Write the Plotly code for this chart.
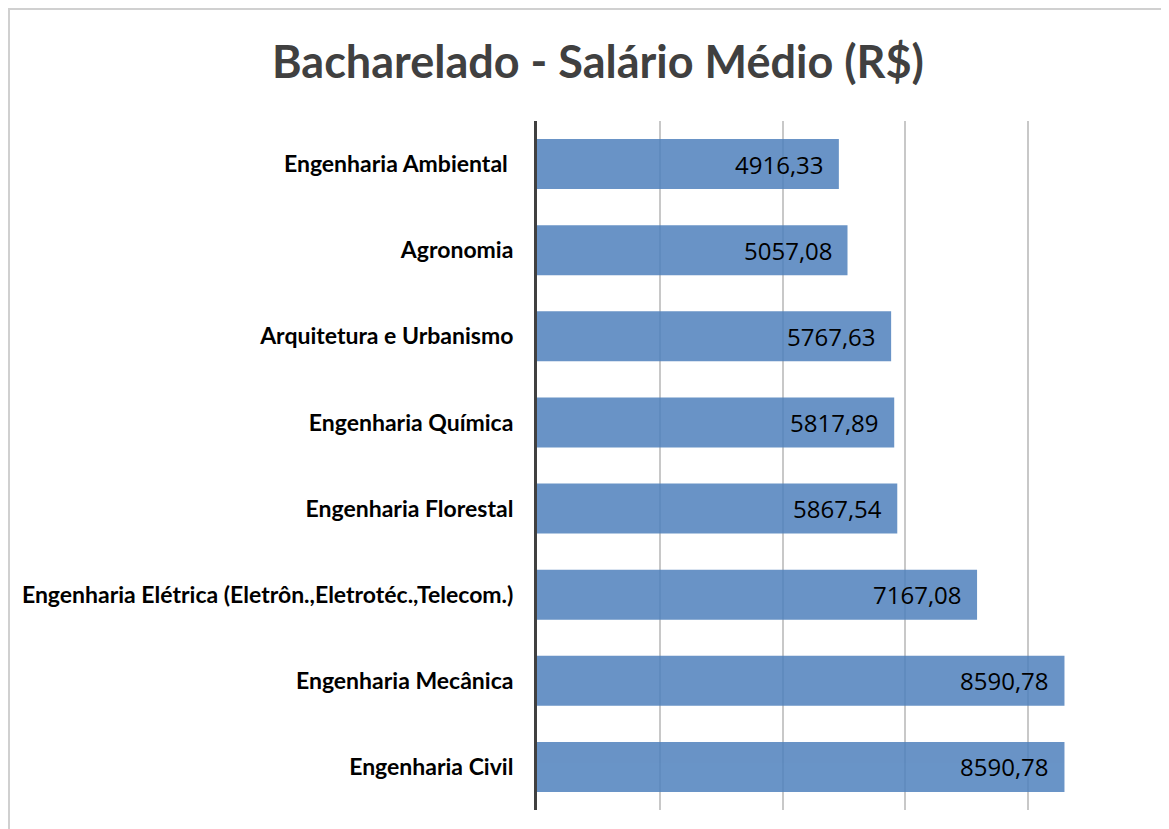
import plotly.graph_objects as go

categories = [
    "Engenharia Ambiental ",
    "Agronomia",
    "Arquitetura e Urbanismo",
    "Engenharia Química",
    "Engenharia Florestal",
    "Engenharia Elétrica (Eletrôn.,Eletrotéc.,Telecom.)",
    "Engenharia Mecânica",
    "Engenharia Civil",
]
salaries = [4916.33, 5057.08, 5767.63, 5817.89, 5867.54, 7167.08, 8590.78, 8590.78]
labels = [f"{v:.2f}".replace(".", ",") for v in salaries]

OFF = 8  # page body margin
W, H = 1169 - OFF, 829 - OFF
L, R, T, B = 537 - OFF, 1151 - OFF, 121 - OFF, 810 - OFF

fig = go.Figure()
fig.add_trace(go.Bar(
    x=salaries, y=categories, orientation="h",
    marker=dict(color="rgb(79,129,189)", line=dict(width=0)),
    opacity=0.85, width=0.58, hoverinfo="x+y",
))

for c, v, t in zip(categories, salaries, labels):
    fig.add_annotation(x=v, y=c, text=t, showarrow=False, xanchor="right",
                       xshift=-13, yshift=0,
                       font=dict(family="Open Sans, sans-serif", size=24, color="#000000"))

pxw = R - L
pxh = B - T
fig.add_shape(type="rect", xref="paper", yref="paper",
              x0=(1 - L) / pxw, x1=(1250 - L) / pxw,
              y0=(B - 950) / pxh, y1=(B - 1) / pxh,
              line=dict(color="#d0d0d0", width=2), fillcolor="rgba(0,0,0,0)", layer="below")

fig.update_layout(
    width=W, height=H,
    margin=dict(l=L, r=W - R, t=T, b=H - B),
    paper_bgcolor="white", plot_bgcolor="white",
    showlegend=False,
    title=dict(text="<b>Bacharelado - Salário Médio (R$)</b>",
               x=(598 - OFF) / W, xanchor="center", y=1 - (62 - OFF) / H, yanchor="middle",
               font=dict(family="Lato, sans-serif", size=45, color="#404040")),
    xaxis=dict(range=[0, 10000], dtick=2000, showgrid=True, gridcolor="#c8c8c8", gridwidth=2,
               showticklabels=False, zeroline=False, showline=False, ticks=""),
    yaxis=dict(autorange="reversed", showline=True, linecolor="#404040", linewidth=3,
               ticks="", ticklabelstandoff=16, showgrid=False,
               tickfont=dict(family="Lato, sans-serif", size=23, color="#000000", weight="bold")),
)

fig.write_html("out.html")
